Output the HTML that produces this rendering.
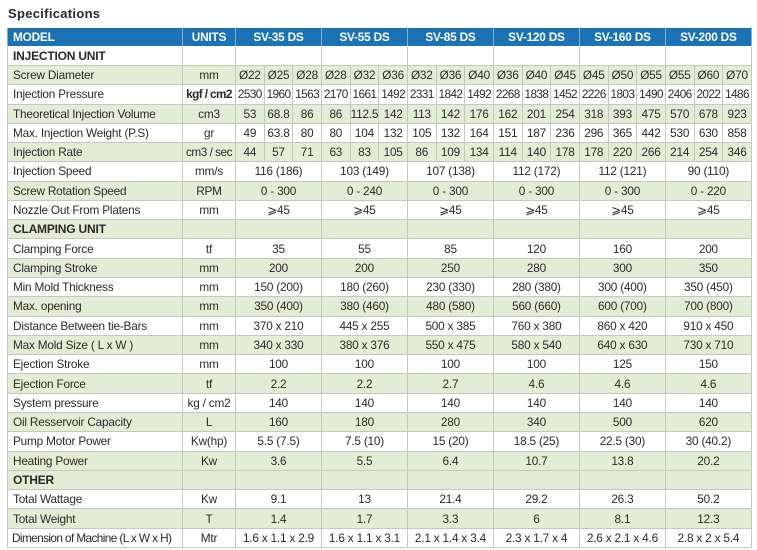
<!DOCTYPE html>
<html><head><meta charset="utf-8"><style>
body{margin:0;background:#fff;width:757px;height:550px;overflow:hidden;font-family:"Liberation Sans",sans-serif;color:#2a2a2a}
.t{position:absolute;left:8px;top:6px;font-weight:bold;font-size:13px;letter-spacing:0.3px}
table{position:absolute;left:7px;top:27px;border-collapse:collapse;table-layout:fixed;width:744px;height:521px;font-size:11.8px;letter-spacing:-0.2px}
td{border:1px solid #c4c9c0;padding:0;text-align:center;white-space:nowrap;overflow:hidden}
tr{height:18.6px}
td.l{text-align:left;padding-left:5px}
tr.h{height:18px}
tr.h td{background:#1b72b5;color:#fff;font-weight:bold;border-color:#fff #7fb0d8}
tr.g td{background:#e2edd6}
tr.s td.l{font-weight:bold;font-size:12px}
</style></head><body>
<div class="t">Specifications</div>
<table>
<colgroup><col style="width:175px"><col style="width:53px">
<col span="18" style="width:28.67px"></colgroup>
<tr class="h"><td class="l">MODEL</td><td>UNITS</td><td colspan="3">SV-35 DS</td><td colspan="3">SV-55 DS</td><td colspan="3">SV-85 DS</td><td colspan="3">SV-120 DS</td><td colspan="3">SV-160 DS</td><td colspan="3">SV-200 DS</td></tr>
<tr class="s"><td class="l">INJECTION UNIT</td><td></td><td colspan="3"></td><td colspan="3"></td><td colspan="3"></td><td colspan="3"></td><td colspan="3"></td><td colspan="3"></td></tr>
<tr class="g"><td class="l">Screw Diameter</td><td>mm</td><td>Ø22</td><td>Ø25</td><td>Ø28</td><td>Ø28</td><td>Ø32</td><td>Ø36</td><td>Ø32</td><td>Ø36</td><td>Ø40</td><td>Ø36</td><td>Ø40</td><td>Ø45</td><td>Ø45</td><td>Ø50</td><td>Ø55</td><td>Ø55</td><td>Ø60</td><td>Ø70</td></tr>
<tr style="letter-spacing:-0.6px"><td class="l" style="letter-spacing:-0.2px">Injection Pressure</td><td style="font-weight:bold">kgf / cm2</td><td>2530</td><td>1960</td><td>1563</td><td>2170</td><td>1661</td><td>1492</td><td>2331</td><td>1842</td><td>1492</td><td>2268</td><td>1838</td><td>1452</td><td>2226</td><td>1803</td><td>1490</td><td>2406</td><td>2022</td><td>1486</td></tr>
<tr class="g"><td class="l">Theoretical Injection Volume</td><td>cm3</td><td>53</td><td>68.8</td><td>86</td><td>86</td><td>112.5</td><td>142</td><td>113</td><td>142</td><td>176</td><td>162</td><td>201</td><td>254</td><td>318</td><td>393</td><td>475</td><td>570</td><td>678</td><td>923</td></tr>
<tr><td class="l">Max. Injection Weight (P.S)</td><td>gr</td><td>49</td><td>63.8</td><td>80</td><td>80</td><td>104</td><td>132</td><td>105</td><td>132</td><td>164</td><td>151</td><td>187</td><td>236</td><td>296</td><td>365</td><td>442</td><td>530</td><td>630</td><td>858</td></tr>
<tr class="g"><td class="l">Injection Rate</td><td style="letter-spacing:-0.5px">cm3 / sec</td><td>44</td><td>57</td><td>71</td><td>63</td><td>83</td><td>105</td><td>86</td><td>109</td><td>134</td><td>114</td><td>140</td><td>178</td><td>178</td><td>220</td><td>266</td><td>214</td><td>254</td><td>346</td></tr>
<tr><td class="l">Injection Speed</td><td>mm/s</td><td colspan="3">116 (186)</td><td colspan="3">103 (149)</td><td colspan="3">107 (138)</td><td colspan="3">112 (172)</td><td colspan="3">112 (121)</td><td colspan="3">90 (110)</td></tr>
<tr class="g"><td class="l">Screw Rotation Speed</td><td>RPM</td><td colspan="3">0 - 300</td><td colspan="3">0 - 240</td><td colspan="3">0 - 300</td><td colspan="3">0 - 300</td><td colspan="3">0 - 300</td><td colspan="3">0 - 220</td></tr>
<tr><td class="l">Nozzle Out From Platens</td><td>mm</td><td colspan="3">⩾45</td><td colspan="3">⩾45</td><td colspan="3">⩾45</td><td colspan="3">⩾45</td><td colspan="3">⩾45</td><td colspan="3">⩾45</td></tr>
<tr class="g s"><td class="l">CLAMPING UNIT</td><td></td><td colspan="3"></td><td colspan="3"></td><td colspan="3"></td><td colspan="3"></td><td colspan="3"></td><td colspan="3"></td></tr>
<tr><td class="l">Clamping Force</td><td>tf</td><td colspan="3">35</td><td colspan="3">55</td><td colspan="3">85</td><td colspan="3">120</td><td colspan="3">160</td><td colspan="3">200</td></tr>
<tr class="g"><td class="l">Clamping Stroke</td><td>mm</td><td colspan="3">200</td><td colspan="3">200</td><td colspan="3">250</td><td colspan="3">280</td><td colspan="3">300</td><td colspan="3">350</td></tr>
<tr><td class="l">Min Mold Thickness</td><td>mm</td><td colspan="3">150 (200)</td><td colspan="3">180 (260)</td><td colspan="3">230 (330)</td><td colspan="3">280 (380)</td><td colspan="3">300 (400)</td><td colspan="3">350 (450)</td></tr>
<tr class="g"><td class="l">Max. opening</td><td>mm</td><td colspan="3">350 (400)</td><td colspan="3">380 (460)</td><td colspan="3">480 (580)</td><td colspan="3">560 (660)</td><td colspan="3">600 (700)</td><td colspan="3">700 (800)</td></tr>
<tr><td class="l">Distance Between tie-Bars</td><td>mm</td><td colspan="3">370 x 210</td><td colspan="3">445 x 255</td><td colspan="3">500 x 385</td><td colspan="3">760 x 380</td><td colspan="3">860 x 420</td><td colspan="3">910 x 450</td></tr>
<tr class="g"><td class="l">Max Mold Size ( L x W )</td><td>mm</td><td colspan="3">340 x 330</td><td colspan="3">380 x 376</td><td colspan="3">550 x 475</td><td colspan="3">580 x 540</td><td colspan="3">640 x 630</td><td colspan="3">730 x 710</td></tr>
<tr><td class="l">Ejection Stroke</td><td>mm</td><td colspan="3">100</td><td colspan="3">100</td><td colspan="3">100</td><td colspan="3">100</td><td colspan="3">125</td><td colspan="3">150</td></tr>
<tr class="g"><td class="l">Ejection Force</td><td>tf</td><td colspan="3">2.2</td><td colspan="3">2.2</td><td colspan="3">2.7</td><td colspan="3">4.6</td><td colspan="3">4.6</td><td colspan="3">4.6</td></tr>
<tr><td class="l">System pressure</td><td>kg / cm2</td><td colspan="3">140</td><td colspan="3">140</td><td colspan="3">140</td><td colspan="3">140</td><td colspan="3">140</td><td colspan="3">140</td></tr>
<tr class="g"><td class="l">Oil Resservoir Capacity</td><td>L</td><td colspan="3">160</td><td colspan="3">180</td><td colspan="3">280</td><td colspan="3">340</td><td colspan="3">500</td><td colspan="3">620</td></tr>
<tr><td class="l">Pump Motor Power</td><td>Kw(hp)</td><td colspan="3">5.5 (7.5)</td><td colspan="3">7.5 (10)</td><td colspan="3">15 (20)</td><td colspan="3">18.5 (25)</td><td colspan="3">22.5 (30)</td><td colspan="3">30 (40.2)</td></tr>
<tr class="g"><td class="l">Heating Power</td><td>Kw</td><td colspan="3">3.6</td><td colspan="3">5.5</td><td colspan="3">6.4</td><td colspan="3">10.7</td><td colspan="3">13.8</td><td colspan="3">20.2</td></tr>
<tr class="g s"><td class="l">OTHER</td><td></td><td colspan="3"></td><td colspan="3"></td><td colspan="3"></td><td colspan="3"></td><td colspan="3"></td><td colspan="3"></td></tr>
<tr><td class="l">Total Wattage</td><td>Kw</td><td colspan="3">9.1</td><td colspan="3">13</td><td colspan="3">21.4</td><td colspan="3">29.2</td><td colspan="3">26.3</td><td colspan="3">50.2</td></tr>
<tr class="g"><td class="l">Total Weight</td><td>T</td><td colspan="3">1.4</td><td colspan="3">1.7</td><td colspan="3">3.3</td><td colspan="3">6</td><td colspan="3">8.1</td><td colspan="3">12.3</td></tr>
<tr><td class="l" style="letter-spacing:-0.6px;padding-left:4px">Dimension of Machine (L x W x H)</td><td>Mtr</td><td colspan="3">1.6 x 1.1 x 2.9</td><td colspan="3">1.6 x 1.1 x 3.1</td><td colspan="3">2.1 x 1.4 x 3.4</td><td colspan="3">2.3 x 1.7 x 4</td><td colspan="3">2.6 x 2.1 x 4.6</td><td colspan="3">2.8 x 2 x 5.4</td></tr>
</table>
</body></html>
